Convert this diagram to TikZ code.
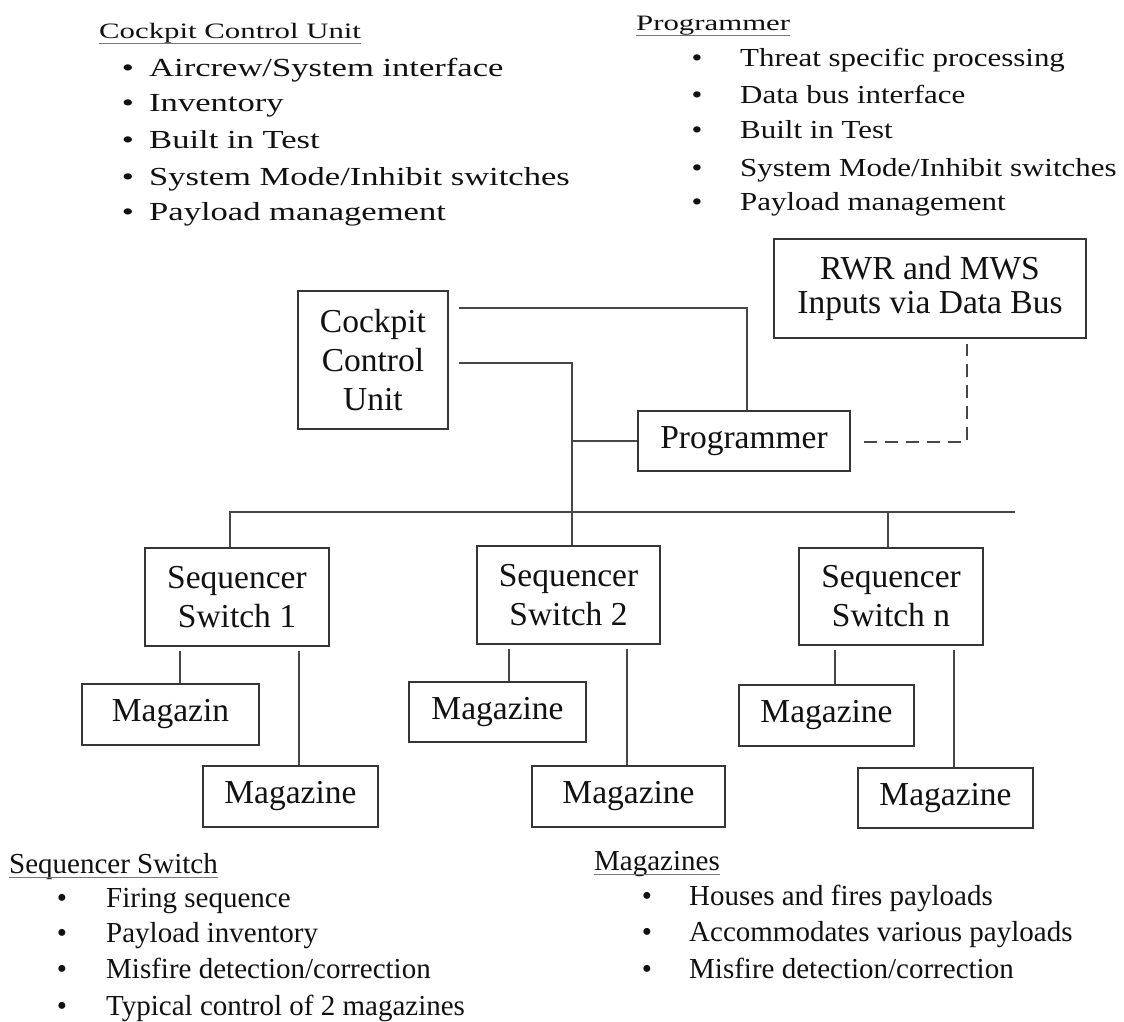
\documentclass[tikz,border=0pt]{standalone}
\usepackage{fontspec}
\setmainfont{Liberation Serif}
\newfontfamily\topfont[FakeStretch=1.33]{Liberation Serif}
\newfontfamily\toprfont[FakeStretch=1.19]{Liberation Serif}
\newfontfamily\topheadfont[FakeStretch=1.4]{Liberation Serif}
\usetikzlibrary{calc}
\definecolor{linec}{HTML}{474747}
\definecolor{boxc}{HTML}{363636}
\definecolor{txtc}{HTML}{111111}
\definecolor{ulc}{HTML}{777777}
\begin{document}
\begin{tikzpicture}[x=1pt,y=-1pt,
  box/.style={draw=boxc,line width=1.8pt,inner sep=0pt,align=center,text=txtc,
              font=\fontsize{33.5}{39}\selectfont},
  conn/.style={draw=linec,line width=1.8pt},
  dashconn/.style={draw=linec,line width=1.8pt,dash pattern=on 13pt off 8pt},
  item/.style={anchor=base west,inner sep=0pt,text=txtc},
  bul/.style={anchor=base,inner sep=0pt,text=txtc},
  uline/.style={draw=ulc,line width=1.6pt},
  topitem/.style={item,font=\topfont\fontsize{26}{30}\selectfont},
  topbul/.style={bul,font=\topfont\fontsize{26}{30}\selectfont},
  topritem/.style={item,font=\toprfont\fontsize{26}{30}\selectfont},
  toprbul/.style={bul,font=\toprfont\fontsize{26}{30}\selectfont},
  tophead/.style={item,font=\topheadfont\fontsize{22}{26}\selectfont},
  botitem/.style={item,font=\fontsize{29}{33}\selectfont},
  botbul/.style={bul,font=\fontsize{29}{33}\selectfont},
  bothead/.style={item,font=\fontsize{29}{33}\selectfont}]
\useasboundingbox[fill=white] (0,0) rectangle (1124,1022);

% ---- boxes ----
\node[box,minimum width=150pt,minimum height=138pt] (ccu) at (373,360) {Cockpit\\Control\\Unit};
\node[box,minimum width=212pt,minimum height=60pt] (prog) at (744,441) {Programmer};
\node[box,minimum width=312pt,minimum height=99pt,font=\fontsize{33.5}{34}\selectfont] (rwr) at (930,288.5) {RWR and MWS\\Inputs via Data Bus};
\node[box,minimum width=184pt,minimum height=98pt] (ss1) at (237,597) {Sequencer\\Switch 1};
\node[box,minimum width=183pt,minimum height=98pt] (ss2) at (568.5,595) {Sequencer\\Switch 2};
\node[box,minimum width=184pt,minimum height=97pt] (ssn) at (891,596.5) {Sequencer\\Switch n};
\node[box,minimum width=177pt,minimum height=61pt] (m1a) at (170.5,714.5) {Magazin};
\node[box,minimum width=175pt,minimum height=61pt] (m1b) at (290.5,796.5) {Magazine};
\node[box,minimum width=177pt,minimum height=60pt] (m2a) at (497.5,712) {Magazine};
\node[box,minimum width=193pt,minimum height=61pt] (m2b) at (628.5,796.5) {Magazine};
\node[box,minimum width=175pt,minimum height=61pt] (mna) at (826.5,715.5) {Magazine};
\node[box,minimum width=175pt,minimum height=60pt] (mnb) at (945.5,798) {Magazine};

% ---- connectors ----
\coordinate (j1) at (747,308);
\draw[conn] ($(ccu.east|-j1)+(10,0)$) -- (j1) -- (j1|-prog.north);
\coordinate (j2) at (572,363);
\draw[conn] ($(ccu.east|-j2)+(10,0)$) -- (j2) -- (j2|-ss2.north);
\draw[conn] (j2|-prog.west) -- (prog.west);
\coordinate (j3) at (967,442);
\draw[dashconn] ($(prog.east|-j3)+(13,0)$) -- (j3) -- ($(j3|-rwr.south)+(0,5)$);
\coordinate (busL) at (230,512);
\coordinate (busR) at (1015,512);
\coordinate (j4) at (888,512);
\draw[conn] (busL|-ss1.north) -- (busL) -- (busR);
\draw[conn] (j4) -- (j4|-ssn.north);
\draw[conn] ($(ss1.south-|m1a.north)+(9.5,4)$) -- ($(m1a.north)+(9.5,0)$);
\draw[conn] ($(ss1.south-|m1b.north)+(8.5,4)$) -- ($(m1b.north)+(8.5,0)$);
\draw[conn] ($(ss2.south-|m2a.north)+(11.5,4)$) -- ($(m2a.north)+(11.5,0)$);
\draw[conn] ($(ss2.south-|m2b.north)+(-1.5,4)$) -- ($(m2b.north)+(-1.5,0)$);
\draw[conn] ($(ssn.south-|mna.north)+(8.5,4)$) -- ($(mna.north)+(8.5,0)$);
\draw[conn] ($(ssn.south-|mnb.north)+(8.5,4)$) -- ($(mnb.north)+(8.5,0)$);

% ---- Cockpit Control Unit list ----
\node[tophead] (hccu) at (99,39) {Cockpit Control Unit};
\draw[uline] ($(hccu.base west)+(0,4.5)$) -- ($(hccu.base east)+(0,4.5)$);
\node[topbul] (cb1) at (128,77) {\textbullet};
\node[topbul] (cb2) at (128,112) {\textbullet};
\node[topbul] (cb3) at (128,148) {\textbullet};
\node[topbul] (cb4) at (128,185) {\textbullet};
\node[topbul] (cb5) at (128,220) {\textbullet};
\node[topitem] (ci1) at (149,77) {Aircrew/System interface};
\node[topitem] (ci2) at (149,112) {Inventory};
\node[topitem] (ci3) at (149,148) {Built in Test};
\node[topitem] (ci4) at (149,185) {System Mode/Inhibit switches};
\node[topitem] (ci5) at (149,220) {Payload management};

% ---- Programmer list ----
\node[tophead] (hprog) at (636,31) {Programmer};
\draw[uline] ($(hprog.base west)+(0,4.5)$) -- ($(hprog.base east)+(0,4.5)$);
\node[toprbul] (pb1) at (697,67) {\textbullet};
\node[toprbul] (pb2) at (697,104) {\textbullet};
\node[toprbul] (pb3) at (697,139) {\textbullet};
\node[toprbul] (pb4) at (697,176) {\textbullet};
\node[toprbul] (pb5) at (697,210) {\textbullet};
\node[topritem] (pi1) at (740,67) {Threat specific processing};
\node[topritem] (pi2) at (740,104) {Data bus interface};
\node[topritem] (pi3) at (740,139) {Built in Test};
\node[topritem] (pi4) at (740,176) {System Mode/Inhibit switches};
\node[topritem] (pi5) at (740,210) {Payload management};

% ---- Sequencer Switch list ----
\node[bothead] (hss) at (9,873) {Sequencer Switch};
\draw[uline] ($(hss.base west)+(0,4.5)$) -- ($(hss.base east)+(0,4.5)$);
\node[botbul] (sb1) at (62,907) {\textbullet};
\node[botbul] (sb2) at (62,942) {\textbullet};
\node[botbul] (sb3) at (62,978) {\textbullet};
\node[botbul] (sb4) at (62,1015) {\textbullet};
\node[botitem] (si1) at (106,907) {Firing sequence};
\node[botitem] (si2) at (106,942) {Payload inventory};
\node[botitem] (si3) at (106,978) {Misfire detection/correction};
\node[botitem] (si4) at (106,1015) {Typical control of 2 magazines};

% ---- Magazines list ----
\node[bothead] (hmag) at (594,870) {Magazines};
\draw[uline] ($(hmag.base west)+(0,4.5)$) -- ($(hmag.base east)+(0,4.5)$);
\node[botbul] (mb1) at (647,905) {\textbullet};
\node[botbul] (mb2) at (647,941) {\textbullet};
\node[botbul] (mb3) at (647,978) {\textbullet};
\node[botitem] (mi1) at (689,905) {Houses and fires payloads};
\node[botitem] (mi2) at (689,941) {Accommodates various payloads};
\node[botitem] (mi3) at (689,978) {Misfire detection/correction};
\end{tikzpicture}
\end{document}
